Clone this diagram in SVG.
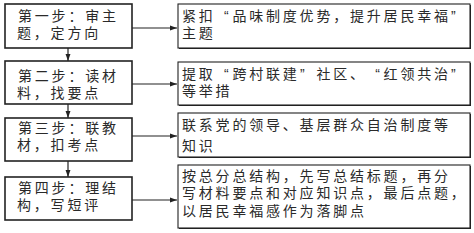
<svg xmlns="http://www.w3.org/2000/svg" width="474" height="233" viewBox="0 0 474 233">
<style>
.lb{fill:#fff;stroke:#222;stroke-width:1.6}
.rb{fill:#fff;stroke:#222;stroke-width:1.1}
.sh{fill:#222}
text{font-family:"Liberation Sans","Noto Sans CJK SC",sans-serif;font-size:14px;fill:#2a2a2a;letter-spacing:2.8px}
.c{stroke:#222;stroke-width:1.2;fill:none}
</style>
<defs>
<marker id="ah" viewBox="0 0 10 10" refX="10" refY="5" markerWidth="8" markerHeight="7" markerUnits="userSpaceOnUse" orient="auto">
<path d="M0,1.5 L10,5 L0,8.5 Z" fill="#222"/>
</marker>
</defs>
<g id="connectors">
<line class="c" x1="68" y1="48" x2="68" y2="61" marker-end="url(#ah)"/>
<line class="c" x1="68" y1="104" x2="68" y2="118" marker-end="url(#ah)"/>
<line class="c" x1="68" y1="161" x2="68" y2="177" marker-end="url(#ah)"/>
<line class="c" x1="132" y1="28" x2="177" y2="28" marker-end="url(#ah)"/>
<line class="c" x1="132" y1="84" x2="177" y2="84" marker-end="url(#ah)"/>
<line class="c" x1="132" y1="136" x2="177" y2="136" marker-end="url(#ah)"/>
<line class="c" x1="132" y1="200" x2="177" y2="200" marker-end="url(#ah)"/>
</g>
<g id="step1">
<rect class="lb" x="5" y="4" width="127" height="44"/>
<text x="18" y="21">第一步：审主</text>
<text x="17" y="38">题，定方向</text>
</g>
<g id="step2">
<rect class="lb" x="5" y="61" width="127" height="43"/>
<text x="18" y="81">第二步：读材</text>
<text x="17" y="97.5">料，找要点</text>
</g>
<g id="step3">
<rect class="lb" x="5" y="118" width="127" height="43"/>
<text x="18" y="133">第三步：联教</text>
<text x="17" y="149.5">材，扣考点</text>
</g>
<g id="step4">
<rect class="lb" x="5" y="177" width="127" height="43"/>
<text x="18" y="193">第四步：理结</text>
<text x="17" y="209.5">构，写短评</text>
</g>
<g id="r1">
<rect class="sh" x="179" y="5" width="292" height="44"/>
<rect class="rb" x="178" y="4" width="292" height="44"/>
<text y="21"><tspan x="182">紧扣</tspan><tspan x="224">“</tspan><tspan x="232.4">品味制度优势，提升居民幸福</tspan><tspan x="451">”</tspan></text>
<text x="182" y="38">主题</text>
</g>
<g id="r2">
<rect class="sh" x="179" y="63" width="292" height="43"/>
<rect class="rb" x="178" y="62" width="292" height="43"/>
<text y="78.5"><tspan x="182">提取</tspan><tspan x="224">“</tspan><tspan x="232.4">跨村联建</tspan><tspan x="300">”</tspan><tspan x="316.4">社区、</tspan><tspan x="375.2">“</tspan><tspan x="383.6">红领共治</tspan><tspan x="451">”</tspan></text>
<text x="182" y="96">等举措</text>
</g>
<g id="r3">
<rect class="sh" x="179" y="114" width="292" height="44"/>
<rect class="rb" x="178" y="113" width="292" height="44"/>
<text x="182" y="129.5">联系党的领导、基层群众自治制度等</text>
<text x="182" y="150.5">知识</text>
</g>
<g id="r4">
<rect class="sh" x="179" y="166" width="292" height="63"/>
<rect class="rb" x="178" y="165" width="292" height="63"/>
<text x="182" y="180.5">按总分总结构，先写总结标题，再分</text>
<text x="182" y="198">写材料要点和对应知识点，最后点题，</text>
<text x="182" y="215.5">以居民幸福感作为落脚点</text>
</g>
</svg>
